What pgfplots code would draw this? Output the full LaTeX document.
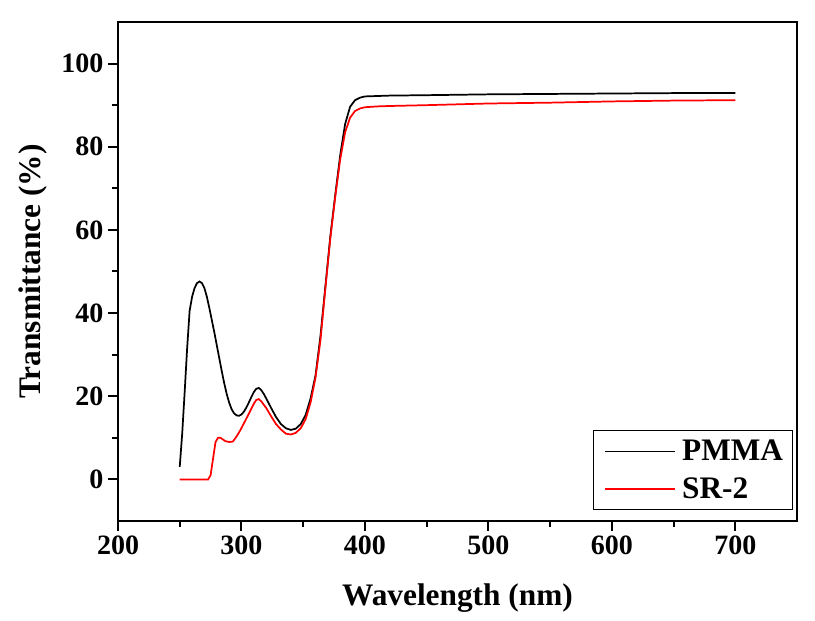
\documentclass[border=0pt]{standalone}
\usepackage{fontspec}
\setmainfont{Liberation Serif}
\usepackage{pgfplots}
\pgfplotsset{compat=1.18}
\begin{document}
\begin{tikzpicture}
\path[use as bounding box] (0,0) rectangle (611.25pt,465.75pt);
\begin{axis}[
  at={(88.5pt,75pt)}, anchor=south west,
  scale only axis, width=509.25pt, height=374.25pt,
  xmin=200, xmax=750, ymin=-10, ymax=110,
  xtick={200,300,...,700}, ytick={0,20,...,100},
  minor x tick num=1, minor y tick num=1,
  xtick pos=bottom, ytick pos=left,
  tick align=outside,
  major tick length=7.5pt, minor tick length=4.5pt,
  tick style={line width=1.5pt, black},
  axis line style={line width=1.8pt},
  /pgf/number format/assume math mode=true,
  ticklabel style={font=\bfseries\fontsize{21}{25}\selectfont},
  xlabel={Wavelength (nm)}, ylabel={Transmittance (\%)},
  label style={font=\bfseries\fontsize{23.5}{28}\selectfont},
  xlabel style={at={(axis description cs:0.5,-0.154)}, anchor=center},
  ylabel style={at={(axis description cs:-0.125,0.5)}, anchor=center},
  legend style={at={(axis description cs:0.994,0.022)}, anchor=south east,
    draw=black, line width=0.75pt, font=\bfseries\fontsize{23.5}{28}\selectfont,
    row sep=7pt, inner xsep=5pt, inner ysep=5pt},
  legend cell align=left,
  legend image code/.code={\draw[#1] (3pt,0pt) -- (55pt,0pt); \path (0pt,0pt) (58pt,0pt);},
]
\addplot[black, line width=1.3pt] coordinates {
(250,3) (252,11) (254,21) (256,31.5) (258,40.5) (260,43.9) (262,46) (264,47.2)
(266,47.6) (268,47.2) (270,46) (272,43.9) (274,41.2) (276,38.3) (278,35.4)
(280,32.3) (282,29.2) (284,26.1) (286,23.2) (288,20.6) (290,18.5) (292,16.9)
(294,15.9) (296,15.4) (298,15.3) (300,15.6) (302,16.3) (304,17.3) (306,18.5)
(308,19.8) (310,21) (312,21.8) (314,22) (316,21.5) (318,20.6) (320,19.5)
(324,17.2) (328,15) (332,13.3) (336,12.3) (340,11.9) (344,12.2) (348,13.3)
(352,15.5) (356,19.5) (360,25) (364,34.5) (368,46.5) (372,58.5) (376,68.5)
(380,78) (384,85.5) (388,89.6) (392,91.2) (396,91.8) (400,92.1) (410,92.2)
(420,92.3) (450,92.4) (500,92.6) (550,92.7) (600,92.8) (650,92.9) (700,92.9)
};
\addlegendentry{PMMA}
\addplot[red, line width=1.3pt] coordinates {
(250,0) (273,0) (275,1) (277,5) (279,9) (281,10) (283,10) (285,9.6) (287,9.2)
(290,9) (293,9.1) (296,10.3) (299,11.8) (302,13.5) (306,15.8) (310,18.2)
(312,19.1) (314,19.3) (316,18.8) (320,17.2) (324,15.2) (328,13.3) (332,12) (336,11)
(340,10.8) (344,11.2) (348,12.3) (352,14.5) (356,18.5) (360,24.5) (364,33.5)
(368,46) (372,58) (376,68) (380,77) (384,83.5) (388,87) (392,88.6) (396,89.2)
(400,89.5) (410,89.7) (420,89.8) (450,90) (500,90.4) (550,90.6) (600,90.9)
(650,91.1) (700,91.2)
};
\addlegendentry{SR-2}
\end{axis}
\end{tikzpicture}
\end{document}
